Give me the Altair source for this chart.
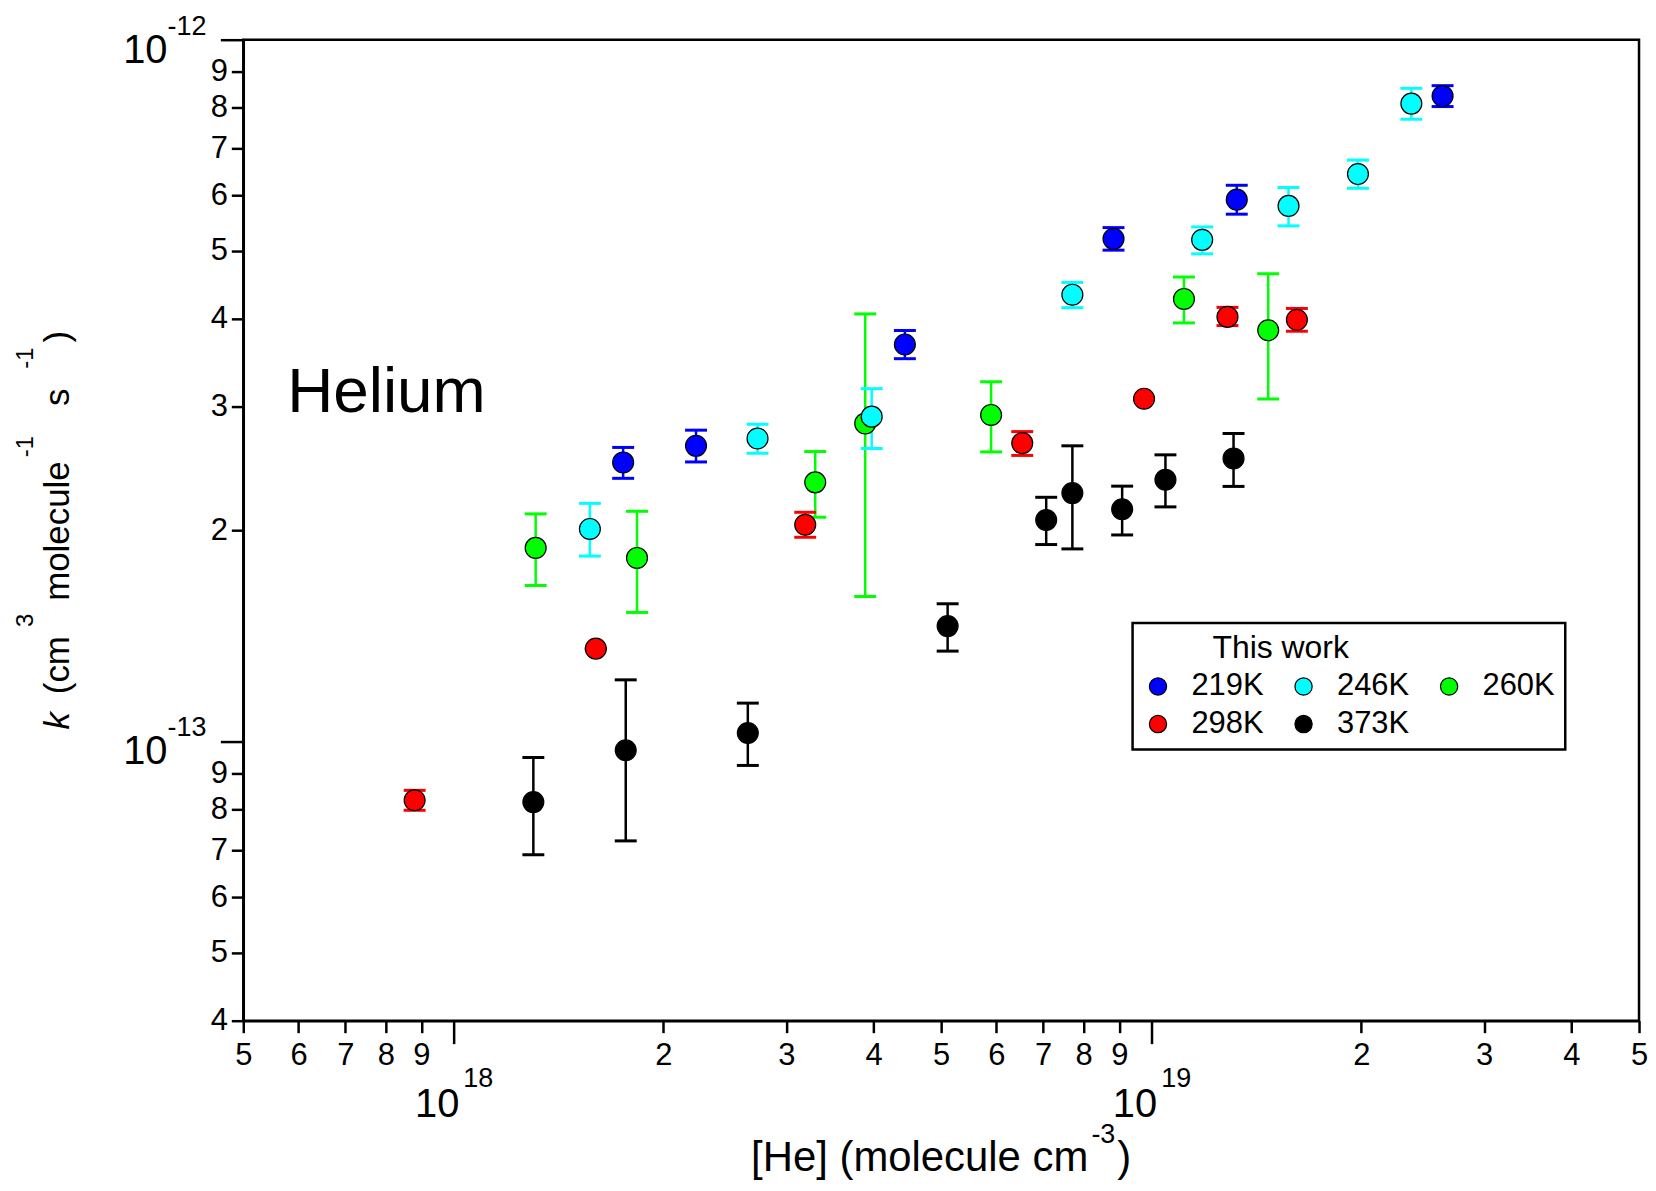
import altair as alt
import pandas as pd

# ------------------------------------------------------------------ data
SERIES = ["219K", "246K", "260K", "298K", "373K"]
COLORS = ["#0000ff", "#00ffff", "#00ff00", "#ff0000", "#000000"]

he_219 = [1.751e18, 2.227e18, 4.436e18, 8.83e18, 1.326e19, 2.615e19]
k_219 = [2.498e-13, 2.638e-13, 3.679e-13, 5.203e-13, 5.916e-13, 8.312e-13]
lo_219 = [2.371e-13, 2.502e-13, 3.511e-13, 5.013e-13, 5.641e-13, 8.030e-13]
hi_219 = [2.624e-13, 2.777e-13, 3.851e-13, 5.398e-13, 6.202e-13, 8.600e-13]

he_246 = [1.569e18, 2.728e18, 3.976e18, 7.709e18, 1.183e19, 1.573e19, 1.978e19, 2.359e19]
k_246 = [2.008e-13, 2.702e-13, 2.903e-13, 4.331e-13, 5.186e-13, 5.796e-13, 6.435e-13, 8.108e-13]
lo_246 = [1.837e-13, 2.575e-13, 2.615e-13, 4.151e-13, 4.953e-13, 5.429e-13, 6.141e-13, 7.703e-13]
hi_246 = [2.184e-13, 2.831e-13, 3.182e-13, 4.509e-13, 5.410e-13, 6.157e-13, 6.737e-13, 8.525e-13]

he_260 = [1.312e18, 1.833e18, 3.300e18, 3.892e18, 5.896e18, 1.114e19, 1.471e19]
k_260 = [1.887e-13, 1.826e-13, 2.340e-13, 2.839e-13, 2.919e-13, 4.271e-13, 3.854e-13]
lo_260 = [1.668e-13, 1.527e-13, 2.087e-13, 1.609e-13, 2.586e-13, 3.948e-13, 3.075e-13]
hi_260 = [2.110e-13, 2.128e-13, 2.589e-13, 4.067e-13, 3.255e-13, 4.590e-13, 4.640e-13]

he_298 = [8.80e17, 1.600e18, 3.193e18, 6.534e18, 9.766e18, 1.286e19, 1.617e19]
k_298 = [8.245e-14, 1.356e-13, 2.036e-13, 2.661e-13, 3.079e-13, 4.027e-13, 3.989e-13]
lo_298 = [7.978e-14, 1.356e-13, 1.954e-13, 2.556e-13, 3.079e-13, 3.914e-13, 3.842e-13]
hi_298 = [8.517e-14, 1.356e-13, 2.121e-13, 2.764e-13, 3.079e-13, 4.155e-13, 4.140e-13]

he_373 = [1.302e18, 1.766e18, 2.642e18, 5.108e18, 7.071e18, 7.709e18, 9.085e18, 1.048e19, 1.312e19]
k_373 = [8.196e-14, 9.716e-14, 1.028e-13, 1.460e-13, 2.068e-13, 2.259e-13, 2.142e-13, 2.360e-13, 2.531e-13]
lo_373 = [6.895e-14, 7.216e-14, 9.243e-14, 1.345e-13, 1.908e-13, 1.881e-13, 1.969e-13, 2.159e-13, 2.309e-13]
hi_373 = [9.487e-14, 1.224e-13, 1.134e-13, 1.571e-13, 2.228e-13, 2.638e-13, 2.311e-13, 2.561e-13, 2.747e-13]

XTICKS = [5e17, 6e17, 7e17, 8e17, 9e17, 1e18, 2e18, 3e18, 4e18, 5e18, 6e18, 7e18,
          8e18, 9e18, 1e19, 2e19, 3e19, 4e19, 5e19]
YTICKS = [4e-14, 5e-14, 6e-14, 7e-14, 8e-14, 9e-14, 1e-13, 2e-13, 3e-13, 4e-13,
          5e-13, 6e-13, 7e-13, 8e-13, 9e-13, 1e-12]
X_MAJOR = [1e18, 1e19]
X_MAJOR_EXP = ["18", "19"]
Y_MAJOR = [1e-13, 1e-12]
Y_MAJOR_EXP = ["-13", "-12"]
X_DOMAIN = [5e17, 5e19]
Y_DOMAIN = [4e-14, 1e-12]

LEGEND_TITLE = "This work"
PANEL_LABEL = "Helium"

# ------------------------------------------------------------------ table
series_data = {
    "219K": (he_219, k_219, lo_219, hi_219),
    "246K": (he_246, k_246, lo_246, hi_246),
    "260K": (he_260, k_260, lo_260, hi_260),
    "298K": (he_298, k_298, lo_298, hi_298),
    "373K": (he_373, k_373, lo_373, hi_373),
}
color_of = dict(zip(SERIES, COLORS))
rows = []
for name in ["373K", "298K", "260K", "246K", "219K"]:  # drawing order
    he, k, lo, hi = series_data[name]
    for a, b, c, d in zip(he, k, lo, hi):
        rows.append({"series": name, "col": color_of[name], "he": a, "k": b, "lo": c, "hi": d})
df = pd.DataFrame(rows)

# ------------------------------------------------------------------ style
W, H = 1400, 984
FONT = "Liberation Sans"
MAJOR_TEST = "abs(log(datum.value)/LN10 - round(log(datum.value)/LN10)) < 1e-6"
DIGIT = "round(datum.value / pow(10, floor(log(datum.value)/LN10 + 1e-6)))"
LABEL_EXPR = f"({MAJOR_TEST}) ? '' : format({DIGIT}, 'd')"

common_axis = dict(
    grid=False, title=None, labelExpr=LABEL_EXPR, labelFontSize=31, labelFont=FONT,
    labelColor="black", labelFlush=False, labelOverlap=False,
    domainColor="black", domainWidth=2.5, tickColor="black", tickWidth=2.5,
    tickSize={"condition": {"test": MAJOR_TEST, "value": 23}, "value": 12},
)
XS = alt.Scale(type="log", domain=X_DOMAIN, nice=False)
YS = alt.Scale(type="log", domain=Y_DOMAIN, nice=False)
X_ENC = alt.X("he:Q", scale=XS, axis=alt.Axis(values=XTICKS, labelPadding=8, **common_axis))
Y_ENC = alt.Y("k:Q", scale=YS, axis=alt.Axis(values=YTICKS, labelPadding=4, **common_axis))
COLOR_RAW = alt.Color("col:N", scale=None)
COLOR_LEG = alt.Color(
    "series:N", scale=alt.Scale(domain=SERIES, range=COLORS),
    legend=alt.Legend(
        title=LEGEND_TITLE, orient="none", legendX=892, legendY=585,
        columns=3, direction="horizontal",
        titleFontSize=32, titleFont=FONT, titleFontWeight="normal", titleColor="black",
        titleAnchor="middle", titleAlign="right", titlePadding=6,
        labelFontSize=31, labelFont=FONT, labelColor="black", labelOffset=18,
        symbolSize=300, symbolType="circle", symbolStrokeColor="black",
        symbolStrokeWidth=1.2, symbolOpacity=1,
        columnPadding=24, rowPadding=6, padding=10, strokeColor="black",
    ),
)

base = alt.Chart(df)
err_rule = base.mark_rule(strokeWidth=2.5).encode(
    x=X_ENC, y=alt.Y("lo:Q", scale=YS), y2="hi:Q", color=COLOR_RAW)
err_lo = base.mark_tick(orient="horizontal", size=22, thickness=3, opacity=1).encode(
    x=X_ENC, y=alt.Y("lo:Q", scale=YS), color=COLOR_RAW)
err_hi = base.mark_tick(orient="horizontal", size=22, thickness=3, opacity=1).encode(
    x=X_ENC, y=alt.Y("hi:Q", scale=YS), color=COLOR_RAW)
points = base.mark_circle(size=440, opacity=1, fillOpacity=1, stroke="black",
                          strokeWidth=1.2).encode(x=X_ENC, y=Y_ENC, color=COLOR_LEG)

# major tick labels (10 with superscript exponent)
xmaj = pd.DataFrame({"he": X_MAJOR, "base": ["10"] * len(X_MAJOR), "exp": X_MAJOR_EXP})
ymaj = pd.DataFrame({"k": Y_MAJOR, "base": ["10"] * len(Y_MAJOR), "exp": Y_MAJOR_EXP})
xmaj_base = alt.Chart(xmaj).mark_text(
    align="right", baseline="alphabetic", fontSize=40, font=FONT, color="black", dx=6
).encode(x=X_ENC, y=alt.value(H + 97), text="base:N")
xmaj_exp = alt.Chart(xmaj).mark_text(
    align="left", baseline="alphabetic", fontSize=27, font=FONT, color="black", dx=10
).encode(x=X_ENC, y=alt.value(H + 67), text="exp:N")
ymaj_base = alt.Chart(ymaj).mark_text(
    align="right", baseline="alphabetic", fontSize=40, font=FONT, color="black", dy=23
).encode(x=alt.value(-76), y=Y_ENC, text="base:N")
ymaj_exp = alt.Chart(ymaj).mark_text(
    align="left", baseline="alphabetic", fontSize=27, font=FONT, color="black", dy=-5
).encode(x=alt.value(-76), y=Y_ENC, text="exp:N")

# ------------------------------------------------------------------ titles with superscripts
UNITS = {" ": 278, "(": 333, ")": 333, "[": 278, "]": 278, "-": 333, "H": 722,
         "c": 500, "e": 556, "k": 500, "l": 222, "m": 833, "o": 556, "s": 500, "u": 556}


def tw(s, size):
    # Liberation Sans advance widths
    return sum(UNITS.get(ch, 556) for ch in s) * size / 1000.0


def piece(text, px, py, **kw):
    return alt.Chart(pd.DataFrame({"t": [text]})).mark_text(
        font=FONT, color="black", **kw
    ).encode(x=alt.value(px), y=alt.value(py), text="t:N")


def layout(parts, main, sup):
    """parts: (text, kind, gap_before); returns (text, size, kind, offset, advance)"""
    out = []
    for t, kind, gap in parts:
        size = sup if kind == "sup" else main
        out.append((t, size, kind, gap, gap + tw(t, size)))
    return out


# y title, rotated (reads bottom to top)
YMAIN, YSUP = 35, 24
ylay = layout([("k", "italic", 0), ("(cm", "main", 18), ("3", "sup", 9),
               ("molecule", "main", 13), ("-1", "sup", 4), ("s", "main", 30),
               ("-1", "sup", 20), (")", "main", 5)], YMAIN, YSUP)
cur = H / 2 + sum(a for *_, a in ylay) / 2
ylayers = []
for t, s, kind, off, adv in ylay:
    ylayers.append(piece(t, -211 if kind == "sup" else -175, cur - off, fontSize=s, angle=270,
                         align="left", baseline="alphabetic",
                         fontStyle="italic" if kind == "italic" else "normal"))
    cur -= adv

# x title
XMAIN, XSUP = 42, 27
xlay = layout([("[He] (molecule cm", "main", 0), ("-3", "sup", 3), (")", "main", 2)],
              XMAIN, XSUP)
curx = W / 2 - sum(a for *_, a in xlay) / 2
xlayers = []
for t, s, kind, off, adv in xlay:
    xlayers.append(piece(t, curx + off, H + (123 if kind == "sup" else 151), fontSize=s,
                         align="left", baseline="alphabetic"))
    curx += adv

helium = piece(PANEL_LABEL, 44, 373, fontSize=64, align="left", baseline="alphabetic")

chart = alt.layer(
    err_rule, err_lo, err_hi, points,
    xmaj_base, xmaj_exp, ymaj_base, ymaj_exp, helium, *ylayers, *xlayers,
).properties(
    width=W, height=H, background="white",
    padding={"left": 6, "top": 3, "right": 0, "bottom": 0},
).configure_view(
    stroke="black", strokeWidth=2.5
).configure_legend(strokeWidth=2.5, symbolOpacity=1).configure_circle(opacity=1)

chart.save("out.html", embed_options={"renderer": "svg", "actions": False})
